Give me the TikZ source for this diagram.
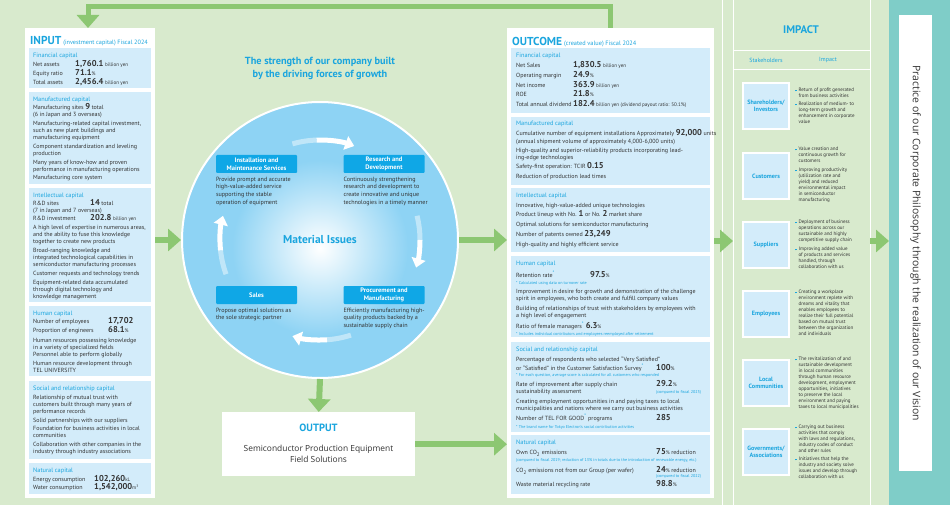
\documentclass[tikz,border=0pt]{standalone}
\usepackage{fontspec}
\setmainfont{PT Sans}
\newfontfamily\opensans{Open Sans}
\usetikzlibrary{arrows.meta,positioning}
\definecolor{bggreen}{HTML}{D8EACD}
\definecolor{arrowgreen}{HTML}{8CC772}
\definecolor{tcyan}{HTML}{1AA5DE}
\definecolor{capblue}{HTML}{D3ECFA}
\definecolor{ringblue}{HTML}{8ED3F4}
\definecolor{tagblue}{HTML}{0FA7E6}
\definecolor{tealband}{HTML}{7FCDC8}
\definecolor{bodygray}{HTML}{333333}

\newcommand{\bignum}[1]{{\fontsize{8.5}{8}\selectfont\bfseries\smash{#1}}}
\newcommand{\smallunit}[1]{{\fontsize{5.1}{5}\selectfont #1}}
\newcommand{\caplabel}[1]{{\fontsize{6.3}{6}\selectfont\color{tcyan}#1}}
\newcommand{\fnote}[1]{{\fontsize{4.15}{4.5}\selectfont\color{tcyan}#1}}
\newcommand{\starmark}{\textsuperscript{\color{tcyan}*}}
\newcommand{\bul}{\makebox[3.4pt][l]{\textcolor{tcyan}{\rule[0.4pt]{1.8pt}{1.8pt}}}}
\newcommand{\ind}{\hspace*{3.4pt}}

\begin{document}
\begin{tikzpicture}[x=1pt,y=-1pt,
  panel/.style={fill=white,draw=none,inner sep=0pt,anchor=north west},
  body/.style={anchor=north west,align=left,inner sep=0pt,text=bodygray,
               font=\fontsize{6}{7}\selectfont},
  outbody/.style={body,font=\fontsize{6}{7}\selectfont},
  title/.style={anchor=base west,inner sep=0pt,text=tcyan,
                font=\fontsize{11.5}{12}\selectfont\bfseries},
  tag/.style={fill=tagblue,text=white,rounded corners=1pt,minimum width=81pt,
              minimum height=18pt,align=center,inner sep=0pt,
              font=\fontsize{6.5}{7.6}\selectfont\bfseries},
  tagtext/.style={align=left,inner sep=0pt,text=bodygray,
                  font=\fontsize{6.1}{7.6}\selectfont},
  holder/.style={draw=white,line width=2.5pt,fill=capblue,minimum width=46pt,
                 minimum height=46pt,align=center,inner sep=0pt,text=tcyan,
                 font=\fontsize{6.2}{7.4}\selectfont\bfseries},
  impacttext/.style={anchor=north west,align=left,inner sep=0pt,text=bodygray,
                     font=\fontsize{5}{6}\selectfont},
  flow/.style={draw=arrowgreen,line width=6pt,-{Triangle[length=13pt,width=22pt]}},
  cyclearrow/.style={draw=white,line width=5pt},
  cyclehead/.style={cyclearrow,-{Triangle[length=9pt,width=14pt]}}
]
\useasboundingbox (0,0) rectangle (950,505);
\fill[bggreen] (0,0) rectangle (950,505);
\draw[white,line width=1pt] (722,0) -- (722,505);

% impact column frame
\draw[white,line width=0.8pt] (733,0) -- (733,505) (870,0) -- (870,505)
  (733,50) -- (870,50) (733,69) -- (870,69);
\node[fill=tealband,minimum width=61pt,minimum height=505pt,inner sep=0pt,
      anchor=north west] (band) at (889,0) {};
\node[fill=white,minimum width=33pt,minimum height=456pt,inner sep=0pt,
      anchor=north west] (vision) at (899,15) {};
\node[rotate=-90,text=bodygray,font=\opensans\fontsize{10.4}{12}\selectfont]
  (visiontext) at (vision.center) {Practice of our Corporate Philosophy through the realization of our Vision};

% white panels
\node[panel,minimum width=130pt,minimum height=470pt] (input) at (25,28) {};
\node[panel,minimum width=207pt,minimum height=470pt] (outcome) at (507,28) {};
\node[panel,minimum width=193pt,minimum height=64pt] (output) at (222,412) {};

% INPUT
\node[title] (inputtitle) at (30,45)
  {INPUT\,{\fontsize{6.2}{6}\selectfont\mdseries(investment capital) Fiscal 2024}};
\fill[capblue] (29,48) rectangle (151,88);
\fill[capblue] (29,92) rectangle (151,184);
\fill[capblue] (29,188) rectangle (151,302);
\fill[capblue] (29,306) rectangle (151,376);
\fill[capblue] (29,381) rectangle (151,459);
\fill[capblue] (29,463) rectangle (151,494);

\node[body] (finin) at (33,53) {\caplabel{Financial capital}\\[1.5pt]
  \makebox[42pt][l]{Net assets}\bignum{1,760.1} \smallunit{billion yen}\\[2pt]
  \makebox[42pt][l]{Equity ratio}\bignum{71.1}\smallunit{\%}\\[2pt]
  \makebox[42pt][l]{Total assets}\bignum{2,456.4} \smallunit{billion yen}};
\node[body] (manin) at (33,97) {\caplabel{Manufactured capital}\\[1pt]
  Manufacturing sites \bignum{9} total\\
  (6 in Japan and 3 overseas)\\[2pt]
  Manufacturing-related capital investment,\\
  such as new plant buildings and\\
  manufacturing equipment\\[2pt]
  Component standardization and leveling\\
  production\\[2pt]
  Many years of know-how and proven\\
  performance in manufacturing operations\\[1pt]
  Manufacturing core system};
\node[body] (intin) at (33,193) {\caplabel{Intellectual capital}\\[1pt]
  \makebox[57pt][l]{R\&D sites}\bignum{14} total\\
  (7 in Japan and 7 overseas)\\[1pt]
  \makebox[57pt][l]{R\&D investment}\bignum{202.8} \smallunit{billion yen}\\[2pt]
  A high level of expertise in numerous areas,\\
  and the ability to fuse this knowledge\\
  together to create new products\\[2pt]
  Broad-ranging knowledge and\\
  integrated technological capabilities in\\
  semiconductor manufacturing processes\\[2pt]
  Customer requests and technology trends\\[2pt]
  Equipment-related data accumulated\\
  through digital technology and\\
  knowledge management};
\node[body] (humin) at (33,311) {\caplabel{Human capital}\\[1pt]
  \makebox[75pt][l]{Number of employees}\bignum{17,702}\\[2pt]
  \makebox[75pt][l]{Proportion of engineers}\bignum{68.1}\smallunit{\%}\\[3pt]
  Human resources possessing knowledge\\
  in a variety of specialized fields\\
  Personnel able to perform globally\\[2pt]
  Human resource development through\\
  TEL UNIVERSITY};
\node[body] (socin) at (33,386) {\caplabel{Social and relationship capital}\\[2pt]
  Relationship of mutual trust with\\
  customers built through many years of\\
  performance records\\[2pt]
  Solid partnerships with our suppliers\\[1pt]
  Foundation for business activities in local\\
  communities\\[2pt]
  Collaboration with other companies in the\\
  industry through industry associations};
\node[body] (natin) at (33,468) {\caplabel{Natural capital}\\[1.5pt]
  \makebox[61pt][l]{Energy consumption}\bignum{102,260}\smallunit{kL}\\[1pt]
  \makebox[61pt][l]{Water consumption}\bignum{1,542,000}\smallunit{m\textsuperscript{3}}};

% strength circle
\node[text=tcyan,align=center,font=\fontsize{10.3}{13}\selectfont\bfseries] (strength) at (320,68.5)
  {The strength of our company built\\by the driving forces of growth};
\node[circle,fill=ringblue,draw=white,line width=2pt,minimum size=276pt,inner sep=0pt]
  (ring) at (320,240) {};
\shade[inner color=white,outer color=ringblue] (320,248) circle (88);
\node[text=tcyan,font=\fontsize{11.5}{12}\selectfont\bfseries] (material) at (320,239) {Material Issues};

\draw[cyclearrow,draw opacity=.45] (ring.center) ++(-106:100) arc[start angle=-106,end angle=-92,radius=100];
\draw[cyclehead] (ring.center) ++(-92:100) arc[start angle=-92,end angle=-70,radius=100];
\draw[cyclearrow,draw opacity=.45] (ring.center) ++(-14:100) arc[start angle=-14,end angle=0,radius=100];
\draw[cyclehead] (ring.center) ++(0:100) arc[start angle=0,end angle=16,radius=100];
\draw[cyclearrow,draw opacity=.45] (ring.center) ++(72:100) arc[start angle=72,end angle=86,radius=100];
\draw[cyclehead] (ring.center) ++(86:100) arc[start angle=86,end angle=106,radius=100];
\draw[cyclearrow,draw opacity=.45] (ring.center) ++(160:100) arc[start angle=160,end angle=174,radius=100];
\draw[cyclehead] (ring.center) ++(174:100) arc[start angle=174,end angle=194,radius=100];

\node[tag] (install) at (256.5,164) {Installation and\\Maintenance Services};
\node[tag] (rnd) at (384,164) {Research and\\Development};
\node[tag] (sales) at (256.5,295) {Sales};
\node[tag] (procure) at (384,295) {Procurement and\\Manufacturing};
\node[tagtext,below right=3.5pt and 0pt of install.south west] (installtext)
  {Provide prompt and accurate\\high-value-added service\\supporting the stable\\operation of equipment};
\node[tagtext,below right=3.5pt and 0pt of rnd.south west] (rndtext)
  {Continuously strengthening\\research and development to\\create innovative and unique\\technologies in a timely manner};
\node[tagtext,below right=3.5pt and 0pt of sales.south west] (salestext)
  {Propose optimal solutions as\\the sole strategic partner};
\node[tagtext,below right=3.5pt and 0pt of procure.south west] (procuretext)
  {Efficiently manufacturing high-\\quality products backed by a\\sustainable supply chain};

% OUTPUT
\node[text=tcyan,font=\fontsize{10.5}{11}\selectfont\bfseries] (outputtitle) at (318.5,428) {OUTPUT};
\node[text=bodygray,align=center,font=\opensans\fontsize{8.4}{11}\selectfont] (outputtext) at (318.5,453.5)
  {Semiconductor Production Equipment\\Field Solutions};

% OUTCOME
\node[title] (outcometitle) at (512,45.5)
  {OUTCOME\,{\fontsize{6.3}{6}\selectfont\mdseries(created value) Fiscal 2024}};
\fill[capblue] (511,48) rectangle (710,113);
\fill[capblue] (511,117) rectangle (710,185);
\fill[capblue] (511,188) rectangle (710,252);
\fill[capblue] (511,256) rectangle (710,337);
\fill[capblue] (511,342) rectangle (710,432);
\fill[capblue] (511,435) rectangle (710,494);

\node[outbody] (finout) at (516,53) {\caplabel{Financial capital}\\[3pt]
  \makebox[57pt][l]{Net Sales}\bignum{1,830.5} \smallunit{billion yen}\\[2.7pt]
  \makebox[57pt][l]{Operating margin}\bignum{24.9}\smallunit{\%}\\[2.7pt]
  \makebox[57pt][l]{Net income}\bignum{363.9} \smallunit{billion yen}\\[2.7pt]
  \makebox[57pt][l]{ROE}\bignum{21.8}\smallunit{\%}\\[2.7pt]
  \makebox[57pt][l]{Total annual dividend}\bignum{182.4} \smallunit{billion yen (dividend payout ratio: 50.1\%)}};
\node[outbody] (manout) at (516,121) {\caplabel{Manufactured capital}\\[3pt]
  Cumulative number of equipment installations Approximately \bignum{92,000} units\\[1pt]
  (annual shipment volume of approximately 4,000-6,000 units)\\[2pt]
  High-quality and superior-reliability products incorporating lead-\\
  ing-edge technologies\\[2pt]
  Safety-first operation: TCIR \bignum{0.15}\\[3pt]
  Reduction of production lead times};
\node[outbody] (intout) at (516,193) {\caplabel{Intellectual capital}\\[3pt]
  Innovative, high-value-added unique technologies\\[2.3pt]
  Product lineup with No. \bignum{1} or No. \bignum{2} market share\\[2.3pt]
  Optimal solutions for semiconductor manufacturing\\[3pt]
  Number of patents owned \bignum{23,249}\\[3pt]
  High-quality and highly efficient service};
\node[outbody] (humout) at (516,261) {\caplabel{Human capital}\\[3pt]
  \makebox[74pt][l]{Retention rate\starmark}\bignum{97.5}\smallunit{\%}\\[0pt]
  \fnote{* Calculated using data on turnover rate}\\[2pt]
  Improvement in desire for growth and demonstration of the challenge\\
  spirit in employees, who both create and fulfill company values\\[3pt]
  Building of relationships of trust with stakeholders by employees with\\
  a high level of engagement\\[3pt]
  Ratio of female managers\starmark{} \bignum{6.3}\smallunit{\%}\\[0pt]
  \fnote{* Includes individual contributors and employees reemployed after retirement}};
\node[outbody] (socout) at (516,347) {\caplabel{Social and relationship capital}\\[3pt]
  Percentage of respondents who selected ``Very Satisfied''\\
  \makebox[140pt][l]{or ``Satisfied'' in the Customer Satisfaction Survey\starmark}\bignum{100}\smallunit{\%}\\[-1pt]
  \fnote{* For each question, average score is calculated for all customers who responded}\\[3pt]
  \makebox[140pt][l]{Rate of improvement after supply chain}\bignum{29.2}\smallunit{\%}\\
  \makebox[140pt][l]{sustainability assessment}\fnote{(compared to fiscal 2023)}\\[3pt]
  Creating employment opportunities in and paying taxes to local\\
  municipalities and nations where we carry out business activities\\[2pt]
  \makebox[140pt][l]{Number of TEL FOR GOOD\starmark{} programs}\bignum{285}\\[1pt]
  \fnote{* The brand name for Tokyo Electron's social contribution activities}};
\node[outbody] (natout) at (516,440) {\caplabel{Natural capital}\\[3pt]
  \makebox[140pt][l]{Own CO\textsubscript{2} emissions}\bignum{75}\smallunit{\%} reduction\\[0pt]
  \fnote{(compared to fiscal 2019; reduction of 13\% in totals due to the introduction of renewable energy, etc.)}\\[4pt]
  \makebox[140pt][l]{CO\textsubscript{2} emissions not from our Group (per wafer)}\bignum{24}\smallunit{\%} reduction\\[-2pt]
  \makebox[140pt][l]{}\fnote{(compared to fiscal 2022)}\\[2pt]
  \makebox[140pt][l]{Waste material recycling rate}\bignum{98.8}\smallunit{\%}};

% IMPACT
\node[text=tcyan,font=\fontsize{11}{12}\selectfont\bfseries] (impacthead) at (801,30) {IMPACT};
\node[text=tcyan,font=\fontsize{6}{6}\selectfont] (stakehead) at (766,60) {Stakeholders};
\node[text=tcyan,font=\fontsize{6}{6}\selectfont] (effecthead) at (828,60) {Impact};
\node[holder] (share) at (766,106) {Shareholders/\\Investors};
\node[holder] (customer) at (766,176) {Customers};
\node[holder] (supplier) at (766,245) {Suppliers};
\node[holder] (employee) at (766,314) {Employees};
\node[holder] (community) at (766,383) {Local\\Communities};
\node[holder] (government) at (766,452) {Governments/\\Associations};

\node[impacttext] (shareimp) at (795,88) {\bul Return of profit generated\\\ind from business activities\\[2pt]
  \bul Realization of medium- to\\\ind long-term growth and\\\ind enhancement in corporate\\\ind value};
\node[impacttext] (customerimp) at (795,147) {\bul Value creation and\\\ind continuous growth for\\\ind customers\\[3pt]
  \bul Improving productivity\\\ind (utilization rate and\\\ind yield) and reduced\\\ind environmental impact\\\ind in semiconductor\\\ind manufacturing};
\node[impacttext] (supplierimp) at (795,220) {\bul Deployment of business\\\ind operations across our\\\ind sustainable and highly\\\ind competitive supply chain\\[3pt]
  \bul Improving added value\\\ind of products and services\\\ind handled, through\\\ind collaboration with us};
\node[impacttext] (employeeimp) at (795,290) {\bul Creating a workplace\\\ind environment replete with\\\ind dreams and vitality that\\\ind enables employees to\\\ind realize their full potential\\\ind based on mutual trust\\\ind between the organization\\\ind and individuals};
\node[impacttext] (communityimp) at (795,357) {\bul The revitalization of and\\\ind sustainable development\\\ind in local communities\\\ind through human resource\\\ind development, employment\\\ind opportunities, initiatives\\\ind to preserve the local\\\ind environment and paying\\\ind taxes to local municipalities};
\node[impacttext] (governmentimp) at (795,425) {\bul Carrying out business\\\ind activities that comply\\\ind with laws and regulations,\\\ind industry codes of conduct\\\ind and other rules\\[2pt]
  \bul Initiatives that help the\\\ind industry and society solve\\\ind issues and develop through\\\ind collaboration with us};

% green flows
\coordinate (impactL) at (733,241);
\coordinate (impactR) at (870,241);
\coordinate (loopR) at (610,7);
\coordinate (loopL) at (88,7);
\draw[flow] (input.east |- ring.center) -- (ring.west);
\draw[flow] (ring.east) -- (ring.east -| outcome.west);
\draw[flow] (ring.south) -- (output.north);
\draw[flow] (output.east) -- (output.east -| outcome.west);
\draw[flow] (outcome.east |- impactL) -- (impactL);
\draw[flow] (impactR) -- (band.west |- impactR);
\draw[flow,line width=5pt] (loopR |- outcome.north) -- (loopR) -- (loopL) -- (loopL |- input.north);
\end{tikzpicture}
\end{document}
